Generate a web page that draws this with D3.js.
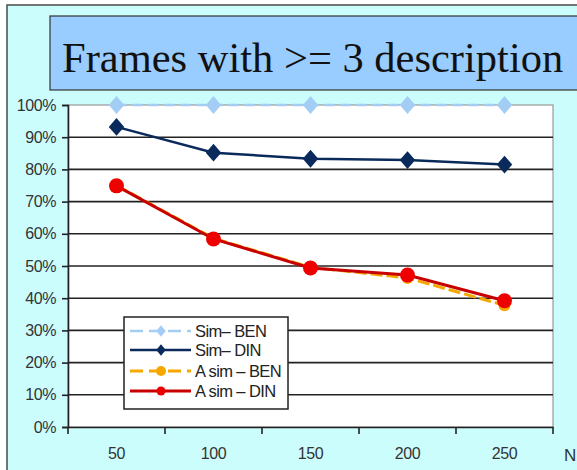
<!DOCTYPE html>
<html><head><meta charset="utf-8">
<script src="https://cdn.jsdelivr.net/npm/d3@7/dist/d3.min.js"></script>
<style>body{margin:0;background:#fff;}svg{display:block;}</style>
</head><body>
<script>
const categories = ["50","100","150","200","250"];
const simBEN  = [100, 100, 100, 100, 100];
const simDIN  = [93.2, 85.2, 83.3, 82.9, 81.5];
const asimBEN = [75.0, 58.6, 49.6, 46.3, 37.8];
const asimDIN = [74.9, 58.4, 49.4, 47.2, 39.2];
const yTicks = [0,10,20,30,40,50,60,70,80,90,100];
const seriesNames = ["Sim\u2013 BEN","Sim\u2013 DIN","A sim \u2013 BEN","A sim \u2013 DIN"];

const W = 577, H = 470;
const svg = d3.select("body").append("svg").attr("width", W).attr("height", H);

// outer chart area
svg.append("rect").attr("x",7).attr("y",5).attr("width",W).attr("height",H)
  .attr("fill","#ccfdfd").attr("stroke","#4a4a4a").attr("stroke-width",1.5);

// title box
svg.append("rect").attr("x",50).attr("y",16).attr("width",540).attr("height",74)
  .attr("fill","#99ccff").attr("stroke","#333").attr("stroke-width",1.2);
svg.append("text").attr("x",62).attr("y",72)
  .attr("font-family","Liberation Serif, serif").attr("font-size",42.5)
  .attr("fill","#111").text("Frames with >= 3 description");

const L = 68, R = 553, T = 105, B = 427;
const x = d3.scaleBand().domain(categories).range([L, R]);
const y = d3.scaleLinear().domain([0,100]).range([B, T]);

// plot area
svg.append("rect").attr("x",L).attr("y",T).attr("width",R-L).attr("height",B-T)
  .attr("fill","#fff").attr("stroke","#999").attr("stroke-width",1.2);

// gridlines
svg.append("g").selectAll("line").data(yTicks.filter(d=>d>0 && d<100)).join("line")
  .attr("x1",L).attr("x2",R).attr("y1",d=>y(d)).attr("y2",d=>y(d))
  .attr("stroke","#222").attr("stroke-width",1.6);

const tickFont = "Liberation Sans, Arial, sans-serif";
// y axis
const yAxis = svg.append("g").attr("transform",`translate(${L},0)`)
  .call(d3.axisLeft(y).tickValues(yTicks).tickFormat(d=>d+"%").tickSize(6));
yAxis.select(".domain").attr("stroke","#222").attr("stroke-width",1.6);
yAxis.selectAll(".tick line").attr("stroke","#222").attr("stroke-width",1.6);
yAxis.selectAll("text").attr("font-family",tickFont)
  .attr("font-size",16).attr("fill","#333").attr("x",-12).attr("letter-spacing","-0.4");

// x axis
const xAxis = svg.append("g").attr("transform",`translate(0,${B})`)
  .call(d3.axisBottom(x).tickSize(0).tickPadding(21));
xAxis.select(".domain").attr("stroke","#222").attr("stroke-width",1.6);
xAxis.selectAll("text").attr("font-family",tickFont)
  .attr("font-size",16).attr("fill","#333").attr("letter-spacing","-0.4");
// category separator ticks
const bounds = categories.map(c=>x(c)).concat([R]);
svg.append("g").selectAll("line").data(bounds).join("line")
  .attr("x1",d=>d).attr("x2",d=>d).attr("y1",B).attr("y2",B+7)
  .attr("stroke","#222").attr("stroke-width",1.6);
svg.append("text").attr("x",564).attr("y",461)
  .attr("font-family",tickFont).attr("font-size",17)
  .attr("fill","#333").text("N");

const cx = c => x(c) + x.bandwidth()/2;
const line = d3.line().x((d,i)=>cx(categories[i])).y(d=>y(d));
const square = d3.symbol().type(d3.symbolSquare);

const series = [
  {name:seriesNames[0], data:simBEN, color:"#a4cdf6", lw:2.5, dash:"10,6", marker:"diamond", size:120},
  {name:seriesNames[1], data:simDIN, color:"#0a2a5c", lw:2.5, dash:null, marker:"diamond", size:120},
  {name:seriesNames[2], data:asimBEN, color:"#f5a800", lw:3, dash:"12,4", marker:"circle", r:6},
  {name:seriesNames[3], data:asimDIN, color:"#ee0000", lw:3, dash:null, marker:"circle", r:7.5, lineColor:"#c80000"}
];

series.forEach(s=>{
  svg.append("path").datum(s.data).attr("d",line).attr("fill","none")
    .attr("stroke",s.lineColor||s.color).attr("stroke-width",s.lw)
    .attr("stroke-dasharray",s.dash);
  const g = svg.append("g");
  if (s.marker==="diamond") {
    g.selectAll("path").data(s.data).join("path")
      .attr("d",square.size(s.size)())
      .attr("transform",(d,i)=>`translate(${cx(categories[i])},${y(d)}) scale(1,1.15) rotate(45)`)
      .attr("fill",s.color);
  } else {
    g.selectAll("circle").data(s.data).join("circle")
      .attr("cx",(d,i)=>cx(categories[i])).attr("cy",d=>y(d)).attr("r",s.r)
      .attr("fill",s.color);
  }
});

// legend
const lg = svg.append("g");
lg.append("rect").attr("x",124).attr("y",317).attr("width",164).attr("height",92)
  .attr("fill","#fff").attr("stroke","#222").attr("stroke-width",1.5);
const ly = [331, 350, 371, 391];
series.forEach((s,i)=>{
  lg.append("line").attr("x1",130).attr("x2",191).attr("y1",ly[i]).attr("y2",ly[i])
    .attr("stroke",s.lineColor||s.color).attr("stroke-width",s.lw)
    .attr("stroke-dasharray", s.dash ? "13,6" : null);
  if (s.marker==="diamond") {
    lg.append("path").attr("d",square.size(45)())
      .attr("transform",`translate(161,${ly[i]}) scale(1,1.2) rotate(45)`).attr("fill",s.color);
  } else {
    lg.append("circle").attr("cx",161).attr("cy",ly[i]).attr("r",i===2?5:4.5).attr("fill",s.color);
  }
  lg.append("text").attr("x",195).attr("y",ly[i]+6)
    .attr("font-family",tickFont).attr("font-size",16.5)
    .attr("letter-spacing","-0.6").attr("fill","#222").text(s.name);
});
</script>
</body></html>
